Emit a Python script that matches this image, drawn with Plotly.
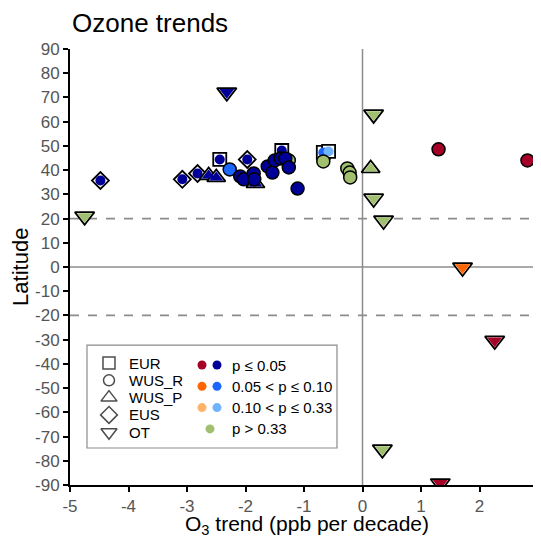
import plotly.graph_objects as go

# trend (ppb per decade), latitude, p-value class
# p class: 1 -> p<=0.05, 2 -> 0.05<p<=0.10, 3 -> 0.10<p<=0.33, 4 -> p>0.33
eur_x = [-2.44, -1.38, -0.67, -0.58]
eur_y = [44.4, 48.1, 47.3, 47.7]
eur_p = [1, 1, 2, 3]

wusr_x = [-0.67, -1.26, -2.27, -2.09, -2.03, -1.86, -1.85, -1.62, -1.54, -1.50, -1.40,
          -1.32, -1.26, -1.11, -0.26, -0.22, -0.21, 1.30, 2.82]
wusr_y = [43.6, 44.0, 40.3, 37.4, 36.2, 38.6, 36.2, 41.5, 39.0, 44.0, 44.8,
          44.8, 41.1, 32.4, 40.7, 39.0, 37.0, 48.6, 44.0]
wusr_p = [4, 4, 2, 1, 1, 1, 1, 1, 1, 1, 1,
          1, 1, 1, 4, 4, 4, 1, 1]

wusp_x = [-2.63, -2.50, -1.83, 0.14]
wusp_y = [37.8, 37.0, 34.5, 40.7]
wusp_p = [1, 1, 1, 4]

eus_x = [-4.48, -3.08, -2.82, -1.97]
eus_y = [35.7, 36.2, 38.6, 44.4]
eus_p = [1, 1, 1, 1]

ot_x = [-4.75, -2.32, 0.19, 0.19, 0.36, 1.71, 2.26, 0.34, 1.33]
ot_y = [20.9, 72.1, 63.0, 28.3, 19.2, -0.2, -30.4, -75.3, -89.3]
ot_p = [4, 1, 4, 4, 4, 2, 1, 4, 1]

group_names = ["EUR", "WUS_R", "WUS_P", "EUS", "OT"]
p_labels = ["p \u2264 0.05", "0.05 < p \u2264 0.10", "0.10 < p \u2264 0.33", "p > 0.33"]

x_ticks = list(range(-5, 4))
y_ticks = list(range(-90, 91, 10))

pos_colors = {1: "#a50026", 2: "#ff6600", 3: "#ffb366", 4: "#a0c070"}
neg_colors = {1: "#000099", 2: "#1a66ff", 3: "#70b4ff", 4: "#a0c070"}


def colors_for(xs, ps):
    return [(pos_colors if x > 0 else neg_colors)[p] for x, p in zip(xs, ps)]


FONT = "Liberation Sans, Arial, sans-serif"
fig = go.Figure()


def add_group(xs, ys, ps, symbol, size, inner_symbol, inner_size):
    cols = colors_for(xs, ps)
    if symbol == "circle":
        fig.add_trace(go.Scatter(x=xs, y=ys, mode="markers", hoverinfo="skip",
                                 marker=dict(symbol="circle", size=size, color=cols,
                                             line=dict(color="black", width=1.5))))
        return
    fig.add_trace(go.Scatter(x=xs, y=ys, mode="markers", hoverinfo="skip",
                             marker=dict(symbol=symbol, size=size, color="white",
                                         line=dict(color="black", width=1.8))))
    fig.add_trace(go.Scatter(x=xs, y=ys, mode="markers", hoverinfo="skip",
                             marker=dict(symbol=inner_symbol, size=inner_size, color=cols,
                                         line=dict(width=0))))


add_group(eus_x, eus_y, eus_p, "diamond", 13, "circle", 10)
add_group(wusp_x, wusp_y, wusp_p, "triangle-up", 16, "triangle-up", 12)
add_group(eur_x, eur_y, eur_p, "square", 13, "circle", 10)
add_group(wusr_x, wusr_y, wusr_p, "circle", 13, None, None)
add_group(ot_x, ot_y, ot_p, "triangle-down", 17, "triangle-down", 13)

# reference lines
fig.add_shape(type="line", x0=0, x1=0, y0=-90, y1=90, xref="x", yref="y",
              line=dict(color="#8c8c8c", width=1.5), layer="below")
fig.add_shape(type="line", x0=-5, x1=3, y0=0, y1=0, xref="x", yref="y",
              line=dict(color="#8c8c8c", width=1.5), layer="below")
for yv in [20, -20]:
    fig.add_shape(type="line", x0=-5, x1=3, y0=yv, y1=yv, xref="x", yref="y",
                  line=dict(color="#8c8c8c", width=1.8, dash="dash"), layer="below")

# custom legend on its own little axes (units ~ pixels inside the box)
shape_syms = ["square-open", "circle-open", "triangle-up-open", "diamond-open", "triangle-down-open"]
shape_sizes = [12, 11, 14, 13, 14]
shape_rows = [18 + 17.3 * i for i in range(5)]
fig.add_trace(go.Scatter(x=[22] * 5, y=shape_rows, mode="markers", xaxis="x2", yaxis="y2",
                         hoverinfo="skip",
                         marker=dict(symbol=shape_syms, size=shape_sizes, color="black",
                                     line=dict(color="black", width=1.5))))
for name, yv in zip(group_names, shape_rows):
    fig.add_annotation(x=40, y=yv, xref="x2", yref="y2", text=name, showarrow=False,
                       xanchor="left", yanchor="middle",
                       font=dict(family=FONT, size=15, color="black"))

p_rows = [20 + 21.3 * i for i in range(4)]
fig.add_trace(go.Scatter(x=[115] * 3 + [130] * 3 + [123], y=p_rows[:3] + p_rows[:3] + [p_rows[3]],
                         mode="markers", xaxis="x2", yaxis="y2", hoverinfo="skip",
                         marker=dict(symbol="circle", size=9,
                                     color=[pos_colors[1], pos_colors[2], pos_colors[3],
                                            neg_colors[1], neg_colors[2], neg_colors[3],
                                            pos_colors[4]])))
for lab, yv in zip(p_labels, p_rows):
    fig.add_annotation(x=143, y=yv, xref="x2", yref="y2", text=lab, showarrow=False,
                       xanchor="left", yanchor="middle",
                       font=dict(family=FONT, size=15, color="black"))
fig.add_shape(type="rect", x0=0, x1=1, y0=0, y1=1, xref="x2 domain", yref="y2 domain",
              line=dict(color="#8c8c8c", width=1.2), fillcolor="rgba(0,0,0,0)")

# titles
fig.add_annotation(x=0, y=1.06, xref="paper", yref="paper", text="Ozone trends",
                   showarrow=False, xanchor="left", yanchor="middle",
                   font=dict(family=FONT, size=26, color="black"))
fig.add_annotation(x=0.506, y=-0.092, xref="paper", yref="paper",
                   text="O<sub>3</sub> trend (ppb per decade)", showarrow=False,
                   xanchor="center", yanchor="middle",
                   font=dict(family=FONT, size=21, color="black"))
fig.add_annotation(x=-0.107, y=0.5, xref="paper", yref="paper", text="Latitude",
                   showarrow=False, textangle=-90, xanchor="center", yanchor="middle",
                   font=dict(family=FONT, size=22, color="black"))

# the page body adds an 8px margin, so the figure is a bit smaller than the window
fig.update_layout(
    width=533, height=528,
    margin=dict(l=62, r=3, t=41, b=51, autoexpand=False),
    paper_bgcolor="white", plot_bgcolor="white",
    showlegend=False,
    font=dict(family=FONT),
    xaxis=dict(range=[-5, 3], tickmode="array", tickvals=x_ticks,
               ticktext=[str(v) for v in x_ticks], ticklabeloverflow="allow", automargin=False,
               showgrid=False, zeroline=False, showline=True, linecolor="black", linewidth=2,
               ticks="outside", ticklen=5, tickwidth=1.5, tickcolor="black",
               tickfont=dict(family=FONT, size=17, color="#555555")),
    yaxis=dict(range=[-90, 90], tickmode="array", tickvals=y_ticks,
               ticktext=[str(v) for v in y_ticks], ticklabeloverflow="allow", automargin=False,
               showgrid=False, zeroline=False, showline=True, linecolor="black", linewidth=2,
               ticks="outside", ticklen=5, tickwidth=1.5, tickcolor="black",
               tickfont=dict(family=FONT, size=17, color="#555555")),
    xaxis2=dict(domain=[0.0363, 0.5705], range=[0, 250], visible=False, anchor="y2"),
    yaxis2=dict(domain=[0.0849, 0.321], range=[103, 0], visible=False, anchor="x2"),
)

fig.write_html("out.html")
